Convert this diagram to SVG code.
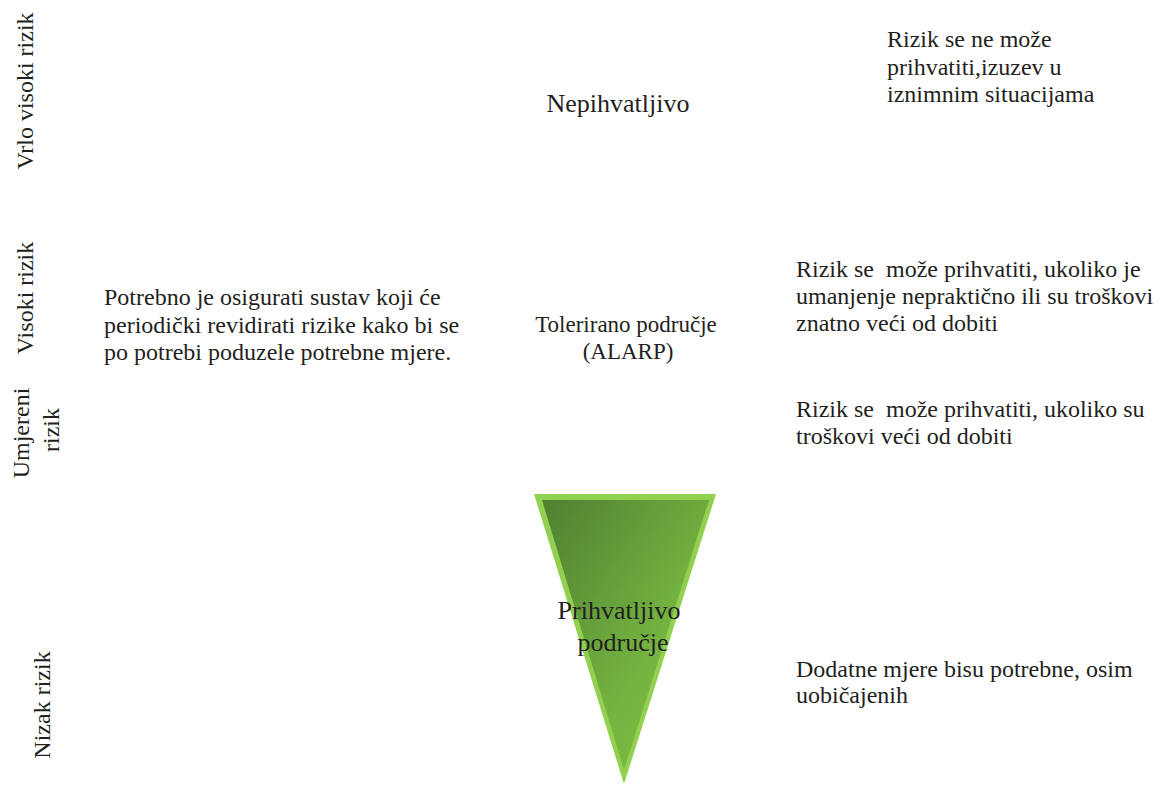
<svg xmlns="http://www.w3.org/2000/svg" width="1164" height="785" viewBox="0 0 1164 785">
<style>
text{font-family:"Liberation Serif","Times New Roman",serif;font-size:24px;fill:#231f20}
.m{text-anchor:middle}
.t{font-size:23px}
.b{font-size:26px}
</style>
<defs>
<linearGradient id="g" x1="0" y1="0" x2="1" y2="1">
<stop offset="0" stop-color="#4f7f31"/>
<stop offset="0.6" stop-color="#74b340"/>
<stop offset="1" stop-color="#82c341"/>
</linearGradient>
</defs>
<rect width="1164" height="785" fill="#fff"/>
<g id="axis">
<text class="m" transform="translate(33,91) rotate(-90)">Vrlo visoki rizik</text>
<text class="m" transform="translate(33,298) rotate(-90)">Visoki rizik</text>
<text class="m" transform="translate(29,433) rotate(-90)">Umjereni</text>
<text class="m" transform="translate(59,430) rotate(-90)">rizik</text>
<text class="m" transform="translate(50,705) rotate(-90)">Nizak rizik</text>
</g>
<g id="nepihvatljivo">
<text class="m b" x="618" y="112">Nepihvatljivo</text>
</g>
<g id="nepihvatljivo-desc">
<text x="887" y="47">Rizik se ne može</text>
<text x="887" y="74.5">prihvatiti,izuzev u</text>
<text x="887" y="102">iznimnim situacijama</text>
</g>
<g id="periodic">
<text x="104" y="305">Potrebno je osigurati sustav koji će</text>
<text x="104" y="333">periodički revidirati rizike kako bi se</text>
<text x="104" y="360">po potrebi poduzele potrebne mjere.</text>
</g>
<g id="tolerirano">
<text class="m t" x="626" y="332">Tolerirano područje</text>
<text class="m t" x="628" y="359">(ALARP)</text>
</g>
<g id="visoki-desc">
<text x="796" y="277" xml:space="preserve">Rizik se  može prihvatiti, ukoliko je</text>
<text x="796" y="304">umanjenje nepraktično ili su troškovi</text>
<text x="796" y="331">znatno veći od dobiti</text>
</g>
<g id="umjereni-desc">
<text x="796" y="417" xml:space="preserve">Rizik se  može prihvatiti, ukoliko su</text>
<text x="796" y="444">troškovi veći od dobiti</text>
</g>
<g id="prihvatljivo">
<polygon points="534,494 716,494 624,784" fill="#92d050"/>
<polygon points="542,500 709,500 624,770" fill="url(#g)"/>
<text class="m b" x="619" y="619">Prihvatljivo</text>
<text class="m b" x="623" y="651">područje</text>
</g>
<g id="nizak-desc">
<text x="796" y="677">Dodatne mjere bisu potrebne, osim</text>
<text x="796" y="703">uobičajenih</text>
</g>
<g id="connectors"></g>
</svg>
